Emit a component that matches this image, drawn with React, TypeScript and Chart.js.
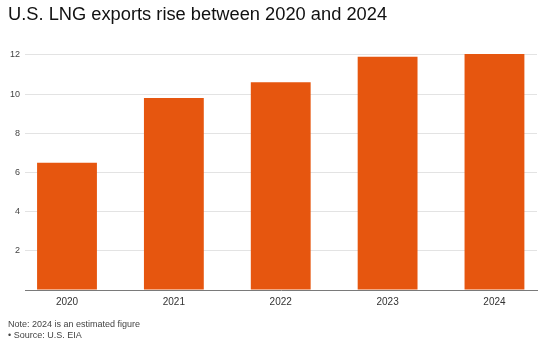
import React, { useEffect, useRef } from "react";
import { Chart, registerables } from "chart.js";

Chart.register(...registerables);

const categories = ["2020", "2021", "2022", "2023", "2024"];
const exportsValues = [6.5, 9.8, 10.6, 11.9, 12.05];
const yTicks = [2, 4, 6, 8, 10, 12];

const titleText = "U.S. LNG exports rise between 2020 and 2024";
const noteText = "Note: 2024 is an estimated figure";
const sourceText = "• Source: U.S. EIA";

const FONT = '"Liberation Sans", Arial, Helvetica, sans-serif';

export default function App() {
  const ref = useRef<HTMLCanvasElement | null>(null);

  useEffect(() => {
    if (!ref.current) return;
    const chart = new Chart(ref.current, {
      type: "bar",
      data: {
        datasets: [
          {
            label: "LNG exports",
            data: categories.map((_, i) => ({ x: i, y: exportsValues[i] })),
            backgroundColor: "#E6560F",
            borderWidth: 0,
            categoryPercentage: 1,
            barPercentage: 0.56,
          },
        ],
      },
      options: {
        animation: false,
        responsive: false,
        maintainAspectRatio: false,
        layout: { padding: { left: 8, right: 13, top: 49, bottom: 35 } },
        plugins: {
          legend: { display: false },
          tooltip: { enabled: false },
          title: { display: false },
        },
        scales: {
          x: {
            type: "linear",
            offset: false,
            min: -0.393,
            max: 4.398,
            grid: { display: false, drawTicks: false },
            border: { display: true, color: "#7a7a7a", width: 1 },
            afterBuildTicks: (scale: any) => {
              scale.ticks = categories.map((_, i) => ({ value: i }));
            },
            afterFit: (scale: any) => {
              scale.height = 20;
            },
            ticks: {
              padding: 6,
              color: "#333",
              font: { family: FONT, size: 10 },
              maxRotation: 0,
              autoSkip: false,
              callback: (v: any) => categories[Math.round(Number(v))] ?? "",
            },
          },
          y: {
            min: 0,
            max: 12.3,
            afterBuildTicks: (scale: any) => {
              scale.ticks = [0, ...yTicks].map((v) => ({ value: v }));
            },
            afterFit: (scale: any) => {
              scale.width = 17;
            },
            grid: {
              drawTicks: false,
              color: (ctx: any) =>
                ctx.tick && ctx.tick.value === 0 ? "rgba(0,0,0,0)" : "#e3e3e3",
              lineWidth: 1,
            },
            border: { display: false },
            ticks: {
              padding: 5,
              color: "#444",
              font: { family: FONT, size: 9 },
              callback: (v: any) => (Number(v) === 0 ? "" : String(v)),
            },
          },
        },
      },
    });
    return () => chart.destroy();
  }, []);

  return (
    <div
      style={{
        position: "absolute",
        left: 0,
        top: 0,
        width: 550,
        height: 345,
        background: "#fff",
        fontFamily: FONT,
        overflow: "hidden",
      }}
    >
      <canvas
        ref={ref}
        width={550}
        height={345}
        style={{ position: "absolute", left: 0, top: 0, width: 550, height: 345 }}
      />
      <div
        style={{
          position: "absolute",
          left: 8,
          top: 5,
          fontSize: 18.3,
          lineHeight: "18px",
          color: "#111",
          whiteSpace: "nowrap",
        }}
      >
        {titleText}
      </div>
      <div
        style={{
          position: "absolute",
          left: 8,
          top: 319,
          fontSize: 9,
          lineHeight: "11px",
          color: "#444",
          whiteSpace: "nowrap",
        }}
      >
        {noteText}
      </div>
      <div
        style={{
          position: "absolute",
          left: 8,
          top: 330,
          fontSize: 9,
          lineHeight: "11px",
          color: "#444",
          whiteSpace: "nowrap",
        }}
      >
        {sourceText}
      </div>
    </div>
  );
}
